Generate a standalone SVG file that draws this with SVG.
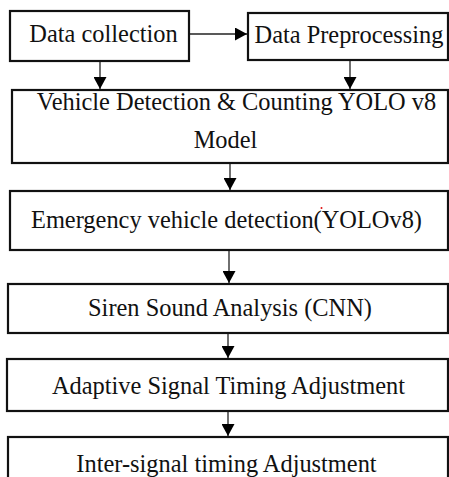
<svg xmlns="http://www.w3.org/2000/svg" width="449" height="477" viewBox="0 0 449 477">
<style>
.box{fill:#fff;stroke:#111;stroke-width:2.2}
.t{font-family:"Liberation Serif","Times New Roman",serif;font-size:24.4px;fill:#111;text-anchor:middle}
.c{stroke:#222;stroke-width:1.3;fill:none}
</style>
<defs>
<marker id="ah" viewBox="0 0 12 13" refX="12" refY="6.5" markerWidth="12" markerHeight="13" markerUnits="userSpaceOnUse" orient="auto">
<path d="M0,0 L12,6.5 L0,13 Z" fill="#000"/>
</marker>
</defs>
<rect width="449" height="477" fill="#fff"/>
<g id="connectors">
<line class="c" x1="189" y1="34" x2="247" y2="34" marker-end="url(#ah)"/>
<line class="c" x1="100" y1="61" x2="100" y2="89" marker-end="url(#ah)"/>
<line class="c" x1="350" y1="60" x2="350" y2="89" marker-end="url(#ah)"/>
<line class="c" x1="230" y1="163" x2="230" y2="190" marker-end="url(#ah)"/>
<line class="c" x1="229" y1="250" x2="229" y2="283" marker-end="url(#ah)"/>
<line class="c" x1="228" y1="333" x2="228" y2="358" marker-end="url(#ah)"/>
<line class="c" x1="228" y1="411" x2="228" y2="436" marker-end="url(#ah)"/>
</g>
<g id="n1"><rect class="box" x="10" y="11" width="179" height="50"/><text class="t" x="103.5" y="42">Data collection</text></g>
<g id="n2"><rect class="box" x="248" y="13" width="200" height="47"/><text class="t" x="349" y="43">Data Preprocessing</text></g>
<g id="n3"><rect class="box" x="12" y="90" width="436" height="73"/><text class="t" x="236.5" y="110">Vehicle Detection &amp; Counting YOLO v8</text><text class="t" x="225.5" y="148">Model</text></g>
<g id="n4"><rect class="box" x="10" y="191" width="438" height="59"/><text class="t" x="226.5" y="228">Emergency vehicle detection(YOLOv8)</text><circle cx="321.5" cy="208" r="1" fill="#e01010"/></g>
<g id="n5"><rect class="box" x="8" y="284" width="440" height="49"/><text class="t" x="230" y="316">Siren Sound Analysis (CNN)</text></g>
<g id="n6"><rect class="box" x="7" y="359" width="441" height="52"/><text class="t" x="228.5" y="394">Adaptive Signal Timing Adjustment</text></g>
<g id="n7"><rect class="box" x="8" y="437" width="440" height="50"/><text class="t" x="226.5" y="472">Inter-signal timing Adjustment</text></g>
</svg>
